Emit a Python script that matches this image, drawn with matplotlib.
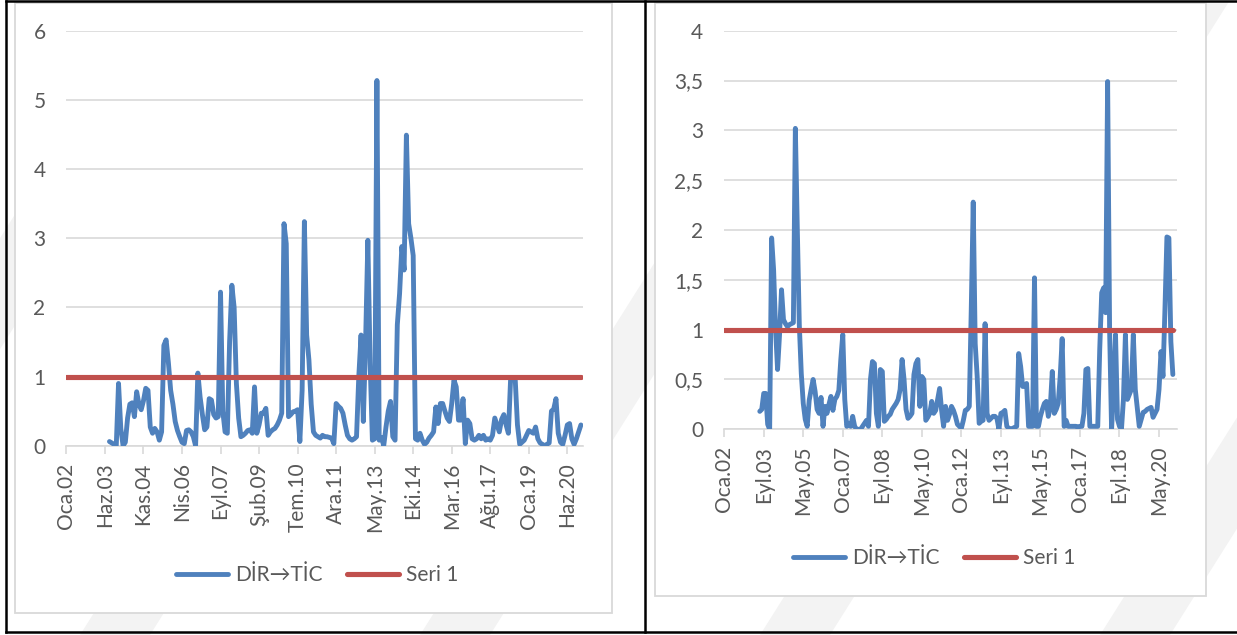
import numpy as np
import matplotlib
matplotlib.use("Agg")
import matplotlib.pyplot as plt
from matplotlib.patches import Rectangle, Polygon
from matplotlib.lines import Line2D

plt.rcParams["font.family"] = ["Lato", "DejaVu Sans"]

W, H = 1237, 635
BLUE = "#4f81bd"
RED = "#c0504d"
GRID = "#d9d9d9"
TXT = "#595959"
FS = 15

# ---- data ---------------------------------------------------------------------
AYLAR = ["Oca", "Şub", "Mar", "Nis", "May", "Haz", "Tem", "Ağu", "Eyl", "Eki", "Kas", "Ara"]
DONEM = [f"{a}.{y % 100:02d}" for y in range(2002, 2021) for a in AYLAR]   # Oca.02 .. Ara.20

SERI_ADI = "DİR→TİC"
ESIK = [1.0] * len(DONEM)          # "Seri 1" reference level

# left panel, monthly values from Ağu.03
SOL_BASLANGIC = "Ağu.03"
SOL = [0.06, 0.04, 0.02, 0.00, 0.90, 0.25, 0.00, 0.05, 0.40, 0.60,
       0.62, 0.42, 0.78, 0.60, 0.52, 0.65, 0.83, 0.80, 0.27, 0.18,
       0.25, 0.20, 0.08, 0.20, 1.45, 1.53, 1.20, 0.80, 0.60, 0.35,
       0.22, 0.13, 0.05, 0.03, 0.22, 0.23, 0.20, 0.13, 0.00, 1.05,
       0.70, 0.45, 0.23, 0.27, 0.68, 0.66, 0.45, 0.40, 0.42, 2.22,
       0.50, 0.20, 0.18, 1.50, 2.32, 2.00, 0.90, 0.40, 0.13, 0.15,
       0.18, 0.22, 0.23, 0.18, 0.85, 0.18, 0.30, 0.47, 0.47, 0.54,
       0.15, 0.20, 0.23, 0.25, 0.30, 0.37, 0.47, 3.21, 2.92, 0.42,
       0.45, 0.49, 0.50, 0.52, 0.06, 0.80, 3.24, 1.60, 1.24, 0.60,
       0.20, 0.15, 0.13, 0.11, 0.15, 0.13, 0.13, 0.12, 0.11, 0.03,
       0.61, 0.57, 0.54, 0.47, 0.30, 0.15, 0.10, 0.08, 0.10, 0.13,
       1.00, 1.60, 0.35, 1.50, 2.97, 1.20, 0.08, 0.10, 5.28, 0.08,
       0.12, 0.00, 0.27, 0.50, 0.64, 0.13, 0.08, 1.75, 2.20, 2.88,
       2.54, 4.49, 3.21, 3.00, 2.75, 0.10, 0.08, 0.18, 0.08, 0.02,
       0.05, 0.11, 0.15, 0.20, 0.56, 0.32, 0.61, 0.61, 0.50, 0.40,
       0.35, 0.61, 0.95, 0.85, 0.37, 0.37, 0.68, 0.03, 0.37, 0.32,
       0.10, 0.08, 0.10, 0.15, 0.10, 0.15, 0.08, 0.10, 0.08, 0.15,
       0.40, 0.30, 0.20, 0.38, 0.45, 0.30, 0.18, 0.98, 0.97, 0.97,
       0.30, 0.02, 0.05, 0.08, 0.15, 0.22, 0.20, 0.18, 0.27, 0.10,
       0.04, 0.02, 0.00, 0.02, 0.04, 0.50, 0.53, 0.68, 0.18, 0.05,
       0.02, 0.15, 0.30, 0.32, 0.10, 0.02, 0.10, 0.20, 0.30]

# right panel, monthly values from Tem.03
SAG_BASLANGIC = "Tem.03"
SAG = [0.18, 0.20, 0.36, 0.36, 0.05, 0.00, 1.92, 1.60, 1.00, 0.60,
       0.95, 1.40, 1.10, 1.06, 1.03, 1.05, 1.06, 1.07, 3.02, 2.00,
       1.05, 0.56, 0.26, 0.10, 0.03, 0.29, 0.40, 0.50, 0.38, 0.20,
       0.16, 0.32, 0.03, 0.23, 0.16, 0.25, 0.33, 0.19, 0.30, 0.33,
       0.39, 0.70, 0.95, 0.30, 0.03, 0.06, 0.03, 0.13, 0.03, 0.00,
       0.00, 0.00, 0.03, 0.06, 0.09, 0.03, 0.50, 0.68, 0.66, 0.16,
       0.03, 0.60, 0.58, 0.08, 0.10, 0.13, 0.15, 0.20, 0.23, 0.26,
       0.30, 0.40, 0.70, 0.50, 0.20, 0.11, 0.13, 0.16, 0.55, 0.66,
       0.70, 0.23, 0.53, 0.50, 0.09, 0.12, 0.16, 0.28, 0.16, 0.19,
       0.30, 0.41, 0.19, 0.03, 0.23, 0.09, 0.15, 0.23, 0.19, 0.13,
       0.05, 0.03, 0.01, 0.09, 0.19, 0.20, 0.23, 1.20, 2.28, 0.86,
       0.53, 0.06, 0.08, 0.09, 1.06, 0.16, 0.09, 0.11, 0.13, 0.13,
       0.11, 0.00, 0.16, 0.17, 0.19, 0.03, 0.01, 0.00, 0.01, 0.02,
       0.03, 0.76, 0.63, 0.43, 0.43, 0.46, 0.03, 0.03, 0.03, 1.52,
       0.03, 0.03, 0.13, 0.20, 0.26, 0.28, 0.13, 0.23, 0.58, 0.16,
       0.20, 0.26, 0.53, 0.91, 0.03, 0.09, 0.03, 0.03, 0.03, 0.03,
       0.03, 0.02, 0.03, 0.03, 0.16, 0.60, 0.61, 0.03, 0.03, 0.03,
       0.03, 0.03, 0.80, 1.37, 1.42, 1.17, 3.49, 1.00, 0.00, 0.40,
       0.95, 0.10, 0.03, 0.00, 0.30, 0.95, 0.30, 0.35, 0.40, 0.95,
       0.40, 0.22, 0.03, 0.10, 0.17, 0.18, 0.20, 0.21, 0.22, 0.12,
       0.16, 0.20, 0.40, 0.78, 0.53, 1.20, 1.93, 1.92, 0.88, 0.55]

SOL_YTICKS = [0, 1, 2, 3, 4, 5, 6]
SAG_YTICKS = [0, 0.5, 1, 1.5, 2, 2.5, 3, 3.5, 4]


def px_box(x0, y0, x1, y1):
    """pixel box (top-left origin) -> figure fraction [l, b, w, h]"""
    return [x0 / W, 1 - y1 / H, (x1 - x0) / W, (y1 - y0) / H]


def fmt_tr(v):
    return f"{v:g}".replace(".", ",")


def panel(fig, rect, xmax, start, values, yticks, step):
    ax = fig.add_axes(rect)
    ax.set_facecolor("none")
    x = np.arange(len(DONEM))
    y = np.full(len(DONEM), np.nan)
    i0 = DONEM.index(start)
    y[i0:i0 + len(values)] = values
    ax.plot(x, y, color=BLUE, lw=3.5, solid_joinstyle="round",
            solid_capstyle="round", zorder=3)
    ax.plot(x, ESIK, color=RED, lw=3.7, solid_capstyle="round", zorder=4)

    ax.set_xlim(0, xmax)
    ax.set_ylim(yticks[0], yticks[-1])
    ax.set_yticks(yticks)
    ax.set_yticklabels([fmt_tr(t) for t in yticks])
    ax.set_xticks(x[::step])
    ax.set_xticklabels(DONEM[::step], rotation=90)
    for s in ("top", "right", "left"):
        ax.spines[s].set_visible(False)
    ax.spines["bottom"].set_color(GRID)
    ax.spines["bottom"].set_linewidth(1.2)
    ax.yaxis.grid(True, color=GRID, lw=1.2)
    ax.set_axisbelow(True)
    ax.tick_params(axis="x", length=6, width=1.2, color=GRID, pad=6,
                   labelsize=FS, labelcolor=TXT)
    ax.tick_params(axis="y", length=0, pad=15, labelsize=FS, labelcolor=TXT)
    return ax


fig = plt.figure(figsize=(W / 100, H / 100), dpi=100)

# faint diagonal watermark bands, mostly hidden behind the chart boxes
for bx in (-250, 80, 420, 760, 1100):
    pts = [(bx, H), (bx + 70, H), (bx + 470, 0), (bx + 400, 0)]
    fig.add_artist(Polygon([(px / W, 1 - py / H) for px, py in pts], closed=True,
                           transform=fig.transFigure, facecolor="#f3f3f3",
                           edgecolor="none", zorder=-10))

# chart area boxes
for x0, y0, x1, y1 in ((15, 3, 612, 613), (655, 3, 1206, 596)):
    l, b, w, h = px_box(x0, y0, x1, y1)
    fig.add_artist(Rectangle((l, b), w, h, transform=fig.transFigure,
                             facecolor="white", edgecolor=GRID, lw=1.3, zorder=-5))

# table frame
for (xa, ya), (xb, yb) in (((6, 1), (W, 1)), ((6, 632), (W, 632)),
                           ((6, 1), (6, 632)), ((645.5, 1), (645.5, 632))):
    fig.add_artist(Line2D([xa / W, xb / W], [1 - ya / H, 1 - yb / H],
                          transform=fig.transFigure, color="black", lw=1.8, zorder=-4))

panel(fig, px_box(66.4, 30.7, 582.5, 445.7), 227.7, SOL_BASLANGIC, SOL, SOL_YTICKS, 17)
panel(fig, px_box(724.2, 30.7, 1176.6, 429.3), 228.9, SAG_BASLANGIC, SAG, SAG_YTICKS, 20)

handles = [Line2D([], [], color=BLUE, lw=3.5, solid_capstyle="round"),
           Line2D([], [], color=RED, lw=3.7, solid_capstyle="round")]
for cx, cy in ((317, 575), (934, 558)):
    fig.legend(handles, [SERI_ADI, "Seri 1"], loc="center",
               bbox_to_anchor=(cx / W, 1 - cy / H), ncol=2, frameon=False,
               fontsize=FS, handlelength=2.5, handletextpad=0.33,
               columnspacing=1.15, labelcolor=TXT)

fig.savefig("out.png", dpi=100)
